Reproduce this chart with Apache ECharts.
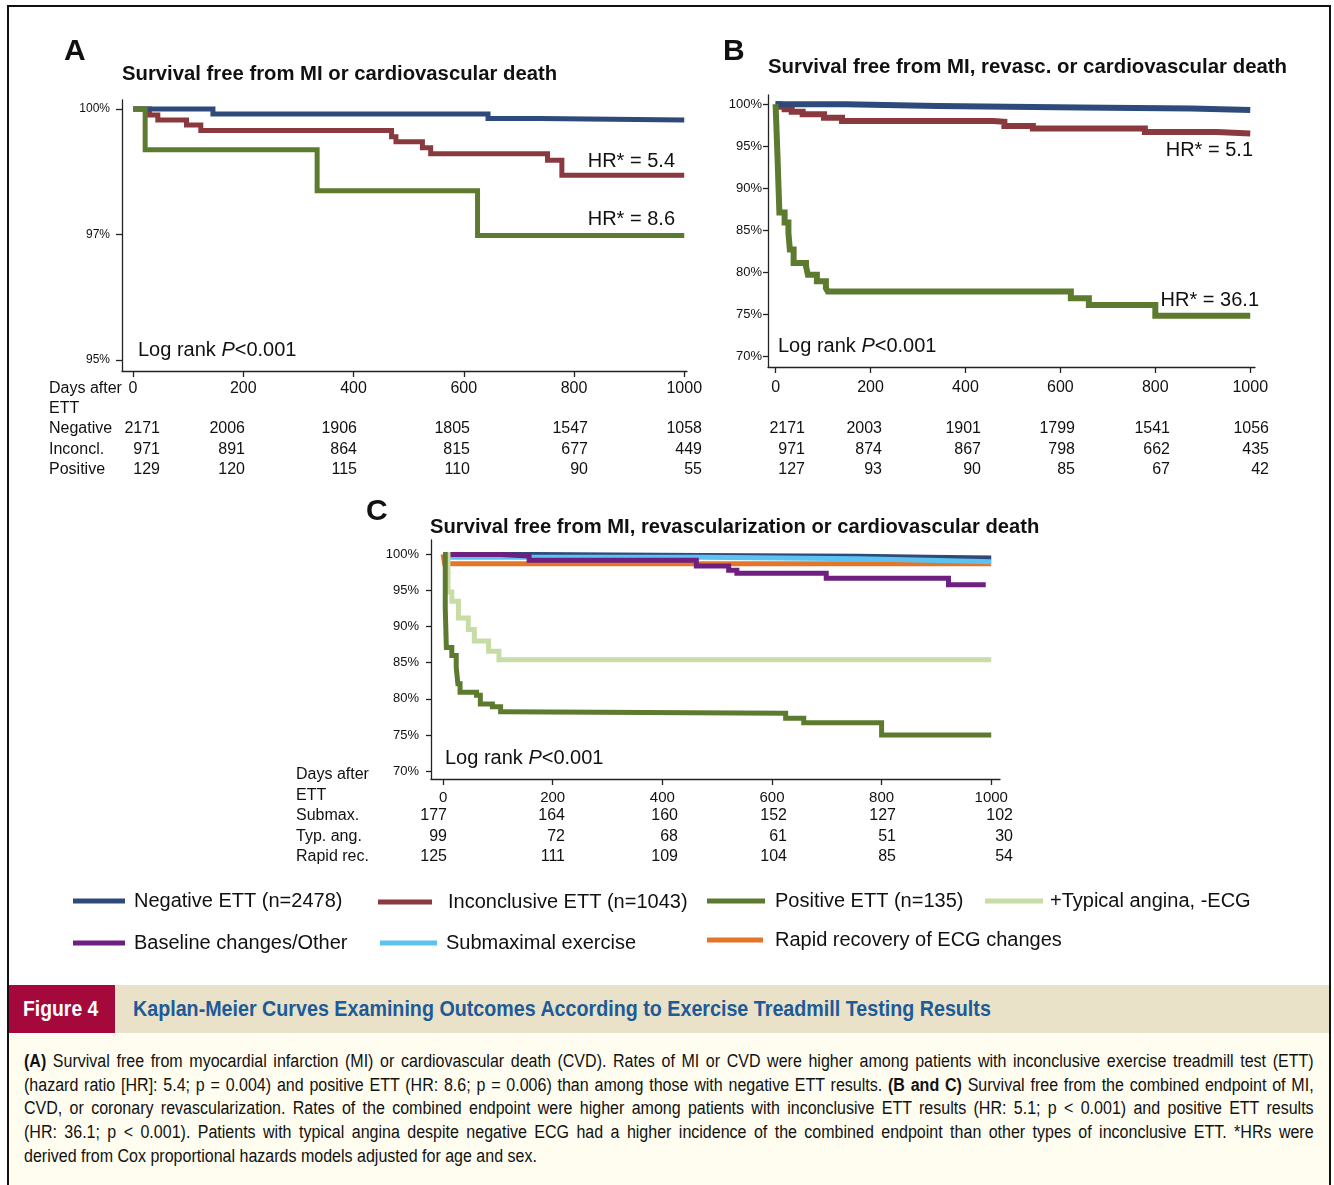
<!DOCTYPE html>
<html>
<head>
<meta charset="utf-8">
<script src="https://cdn.jsdelivr.net/npm/echarts@6/dist/echarts.min.js"></script>
<style>
html,body{margin:0;padding:0;background:#fff;}
#wrap{position:relative;width:1334px;height:1185px;overflow:hidden;background:#fff;}
#chart{position:absolute;left:0;top:0;width:1334px;height:985px;}
#frame{position:absolute;left:7px;top:5px;width:1324px;height:1220px;border:2px solid #111;box-sizing:border-box;pointer-events:none;z-index:5;}
#head{position:absolute;left:9px;top:985px;width:1320px;height:48px;background:#e9e1c8;}
#fig{position:absolute;left:9px;top:985px;width:106px;height:48px;background:#a5083a;}
#figt{position:absolute;left:23px;top:985px;line-height:48px;color:#fff;font-family:'Liberation Sans',Arial,sans-serif;font-weight:bold;font-size:22px;white-space:nowrap;transform:scaleX(0.88);transform-origin:0 0;}
#htitle{position:absolute;left:133px;top:985px;height:48px;line-height:48px;color:#1c5a98;font-family:'Liberation Sans',Arial,sans-serif;font-weight:bold;font-size:22px;white-space:nowrap;transform:scaleX(0.895);transform-origin:0 0;}
#body{position:absolute;left:9px;top:1033px;width:1320px;height:170px;background:#fffdf0;}
.ln{position:absolute;left:24px;width:1449px;text-align:justify;text-align-last:justify;font-family:'Liberation Sans',Arial,sans-serif;font-size:18px;line-height:20px;color:#111;transform:scaleX(0.89);transform-origin:0 0;}
.ln.last{text-align-last:left;}
</style>
</head>
<body>
<div id="wrap">
  <div id="chart"></div>
  <div id="head"></div>
  <div id="fig"></div>
  <div id="figt">Figure 4</div>
  <div id="htitle">Kaplan-Meier Curves Examining Outcomes According to Exercise Treadmill Testing Results</div>
  <div id="body"></div>
  <div class="ln" style="top:1051px"><b>(A)</b> Survival free from myocardial infarction (MI) or cardiovascular death (CVD). Rates of MI or CVD were higher among patients with inconclusive exercise treadmill test (ETT)</div>
  <div class="ln" style="top:1075px">(hazard ratio [HR]: 5.4; p = 0.004) and positive ETT (HR: 8.6; p = 0.006) than among those with negative ETT results. <b>(B and C)</b> Survival free from the combined endpoint of MI,</div>
  <div class="ln" style="top:1098px">CVD, or coronary revascularization. Rates of the combined endpoint were higher among patients with inconclusive ETT results (HR: 5.1; p &lt; 0.001) and positive ETT results</div>
  <div class="ln" style="top:1122px">(HR: 36.1; p &lt; 0.001). Patients with typical angina despite negative ECG had a higher incidence of the combined endpoint than other types of inconclusive ETT. *HRs were</div>
  <div class="ln last" style="top:1146px">derived from Cox proportional hazards models adjusted for age and sex.</div>
  <div id="frame"></div>
</div>
<script>
// ---------------- DATA ----------------
const xTickDays = [0, 200, 400, 600, 800, 1000];
const xTickLabels = ['0', '200', '400', '600', '800', '1000'];

// Panel A (survival %, [day, value])
const aNegative = [[0,100],[145,99.9],[644,99.81],[737,99.78],[1000,99.78]];
const aInconclusive = [[0,100],[30,99.88],[45,99.78],[97,99.68],[123,99.57],[469,99.45],[477,99.35],[525,99.23],[540,99.11],[752,98.98],[778,98.68],[1000,98.68]];
const aPositive = [[0,100],[22,99.19],[334,98.37],[625,97.48],[1000,97.48]];
const aYTickValues = [95, 97.5, 100];
const aYTickLabels = ['95%', '97%', '100%'];

// Panel B
const bNegative = [[0,100],[148,99.8],[341,99.6],[641,99.5],[876,99.3],[1000,99.3]];
const bInconclusive = [[0,100],[8,99.7],[19,99.4],[34,99.1],[57,98.8],[102,98.4],[140,98.0],[459,97.9],[482,97.4],[542,97.1],[778,96.7],[929,96.5],[1000,96.5]];
const bPositive = [[0,100],[4,93.8],[8,87.1],[19,85.9],[27,84.7],[30,82.7],[38,81.1],[64,80.7],[68,79.7],[87,78.9],[106,78.1],[110,77.7],[622,76.9],[660,76.1],[800,74.8],[1000,74.8]];
const bcYTickValues = [70, 75, 80, 85, 90, 95, 100];
const bcYTickLabels = ['70%', '75%', '80%', '85%', '90%', '95%', '100%'];

// Panel C
const cNegative = [[0,100],[165,99.85],[470,99.75],[757,99.6],[884,99.5],[1000,99.5]];
const cSubmaximal = [[0,100],[10,99.6],[470,99.4],[757,99.2],[884,99.0],[1000,99.0]];
const cRapid = [[0,100],[3,98.7],[1000,98.7]];
const cBaseline = [[0,100],[105,99.8],[157,99.2],[462,98.4],[521,97.8],[536,97.4],[699,96.7],[922,95.8],[990,95.8]];
const cTypical = [[0,100],[9,94.8],[16,93.5],[28,91.2],[46,89.6],[57,88.0],[83,86.6],[102,85.4],[1000,85.4]];
const cPositive = [[0,100],[4,92.6],[6,87.1],[16,86.0],[24,84.4],[27,82.1],[31,80.9],[61,80.5],[68,79.3],[90,78.9],[105,78.2],[110,78.0],[625,77.3],[658,76.7],[800,75.0],[1000,75.0]];

// Numbers at risk
const aRiskNegative = [2171, 2006, 1906, 1805, 1547, 1058];
const aRiskInconcl = [971, 891, 864, 815, 677, 449];
const aRiskPositive = [129, 120, 115, 110, 90, 55];
const bRiskNegative = [2171, 2003, 1901, 1799, 1541, 1056];
const bRiskInconcl = [971, 874, 867, 798, 662, 435];
const bRiskPositive = [127, 93, 90, 85, 67, 42];
const cRiskSubmax = [177, 164, 160, 152, 127, 102];
const cRiskTypical = [99, 72, 68, 61, 51, 30];
const cRiskRapid = [125, 111, 109, 104, 85, 54];

// Series names / legend
const nNeg = 'Negative ETT (n=2478)';
const nInc = 'Inconclusive ETT (n=1043)';
const nPos = 'Positive ETT (n=135)';
const nTyp = '+Typical angina, -ECG';
const nBase = 'Baseline changes/Other';
const nSub = 'Submaximal exercise';
const nRapid = 'Rapid recovery of ECG changes';

// ---------------- STYLE / LAYOUT ----------------
const FONT = "'Liberation Sans', Arial, Helvetica, sans-serif";
const COL = {neg:'#2d4a7a', inc:'#8a3a3f', pos:'#5d7b2f', typ:'#c8dca6', base:'#6e1f80', sub:'#5cc3f0', rapid:'#e3762a'};

const chart = echarts.init(document.getElementById('chart'), null, {renderer:'canvas'});

function km(name, data, color, width, gi, z) {
  return {type:'line', name, data, step:'end', xAxisIndex:gi, yAxisIndex:gi, symbol:'none', showSymbol:false,
    lineStyle:{color, width, cap:'butt', join:'miter'}, itemStyle:{color}, silent:true, z:z||2, animation:false};
}
function xAx(gi, min, max, fs, margin) {
  return {type:'value', gridIndex:gi, min, max,
    axisLine:{show:true, onZero:false, lineStyle:{color:'#222', width:1.3}},
    axisTick:{show:true, length:6, lineStyle:{color:'#222', width:1.3}, customValues:xTickDays},
    axisLabel:{show:true, fontSize:fs, color:'#111', fontFamily:FONT, margin, customValues:xTickDays,
      formatter:v => xTickLabels[xTickDays.indexOf(v)]},
    splitLine:{show:false}};
}
function yAx(gi, min, max, vals, labs, fs, margin, tl) {
  return {type:'value', gridIndex:gi, min, max,
    axisLine:{show:true, onZero:false, lineStyle:{color:'#222', width:1.3}},
    axisTick:{show:true, length:tl, lineStyle:{color:'#222', width:1.3}, customValues:vals},
    axisLabel:{show:true, fontSize:fs, color:'#111', fontFamily:FONT, margin, customValues:vals,
      formatter:v => labs[vals.indexOf(v)]},
    splitLine:{show:false}};
}
function txt(x, y, text, o) {
  o = o || {};
  return {type:'text', x, y, silent:true, style:{text, fill:'#111', font:(o.w||'normal')+' '+(o.fs||16)+'px '+FONT,
    textAlign:o.align||'left', textVerticalAlign:'middle'}};
}
function logRank(x, y) {
  return {type:'text', x, y, silent:true, style:{
    text:'{n|Log rank }{i|P}{n|<0.001}', textVerticalAlign:'middle', textAlign:'left',
    rich:{n:{fontSize:20, fontFamily:FONT, fill:'#111'}, i:{fontSize:20, fontFamily:FONT, fontStyle:'italic', fill:'#111'}}}};
}
function riskRow(vals, xs, y) {
  return vals.map((v, i) => txt(xs[i], y, String(v), {align:'right'}));
}

const aCols = [160, 245, 357, 470, 588, 702];
const bCols = [805, 882, 981, 1075, 1170, 1269];
const cCols = [447, 565, 678, 787, 896, 1013];

const graphics = [
  txt(64, 52, 'A', {w:'bold', fs:30}),
  txt(723, 52, 'B', {w:'bold', fs:30}),
  txt(366, 512, 'C', {w:'bold', fs:30}),
  txt(122, 74, 'Survival free from MI or cardiovascular death', {w:'bold', fs:20.3}),
  txt(768, 67, 'Survival free from MI, revasc. or cardiovascular death', {w:'bold', fs:20.4}),
  txt(430, 527, 'Survival free from MI, revascularization or cardiovascular death', {w:'bold', fs:20.2}),
  txt(675, 161, 'HR* = 5.4', {fs:20, align:'right'}),
  txt(675, 219, 'HR* = 8.6', {fs:20, align:'right'}),
  txt(1253, 150, 'HR* = 5.1', {fs:20, align:'right'}),
  txt(1259, 300, 'HR* = 36.1', {fs:20, align:'right'}),
  logRank(138, 350), logRank(778, 346), logRank(445, 758),
  txt(49, 389, 'Days after'), txt(49, 409, 'ETT'),
  txt(49, 429, 'Negative'), txt(49, 450, 'Inconcl.'), txt(49, 470, 'Positive'),
  ...riskRow(aRiskNegative, aCols, 429), ...riskRow(aRiskInconcl, aCols, 450), ...riskRow(aRiskPositive, aCols, 470),
  ...riskRow(bRiskNegative, bCols, 429), ...riskRow(bRiskInconcl, bCols, 450), ...riskRow(bRiskPositive, bCols, 470),
  txt(296, 775, 'Days after'), txt(296, 796, 'ETT'),
  txt(296, 816, 'Submax.'), txt(296, 837, 'Typ. ang.'), txt(296, 857, 'Rapid rec.'),
  ...riskRow(cRiskSubmax, cCols, 816), ...riskRow(cRiskTypical, cCols, 837), ...riskRow(cRiskRapid, cCols, 857)
];

function leg(name, left, cy, w, gap) {
  return {data:[name], left, top:cy - 11, padding:0, icon:'rect', itemWidth:w, itemHeight:5, selectedMode:false,
    textStyle:{fontSize:20, fontFamily:FONT, color:'#111', padding:[0,0,0,gap]}};
}

const option = {
  animation:false,
  backgroundColor:'#fff',
  grid:[
    {left:122, top:100, width:565, height:271},
    {left:768, top:95, width:487, height:272},
    {left:431, top:540, width:569, height:239}
  ],
  xAxis:[xAx(0, -20, 1005, 16, 10), xAx(1, -16, 1010, 16, 13), xAx(2, -22, 1016, 15, 11)],
  yAxis:[
    yAx(0, 94.78, 100.18, aYTickValues, aYTickLabels, 12, 12, 6),
    yAx(1, 68.7, 101.1, bcYTickValues, bcYTickLabels, 13, 6, 5),
    yAx(2, 68.9, 102, bcYTickValues, bcYTickLabels, 13, 12, 5)
  ],
  legend:[
    leg(nNeg, 73, 902, 52, 4), leg(nInc, 378, 903, 54, 11), leg(nPos, 707, 902, 58, 5), leg(nTyp, 985, 902, 58, 2),
    leg(nBase, 73, 944, 52, 4), leg(nSub, 380, 944, 57, 4), leg(nRapid, 707, 941, 56, 7)
  ],
  series:[
    km(nNeg, aNegative, COL.neg, 5, 0, 3), km(nInc, aInconclusive, COL.inc, 5, 0, 2), km(nPos, aPositive, COL.pos, 5, 0, 4),
    km(nNeg, bNegative, COL.neg, 6, 1, 3), km(nInc, bInconclusive, COL.inc, 6, 1, 2), km(nPos, bPositive, COL.pos, 6, 1, 4),
    km(nRapid, cRapid, COL.rapid, 5, 2, 2), km(nSub, cSubmaximal, COL.sub, 5, 2, 3), km(nNeg, cNegative, COL.neg, 5, 2, 2),
    km(nBase, cBaseline, COL.base, 5, 2, 4), km(nTyp, cTypical, COL.typ, 5, 2, 4), km(nPos, cPositive, COL.pos, 5, 2, 5)
  ],
  graphic:graphics
};
chart.setOption(option);
</script>
</body>
</html>
